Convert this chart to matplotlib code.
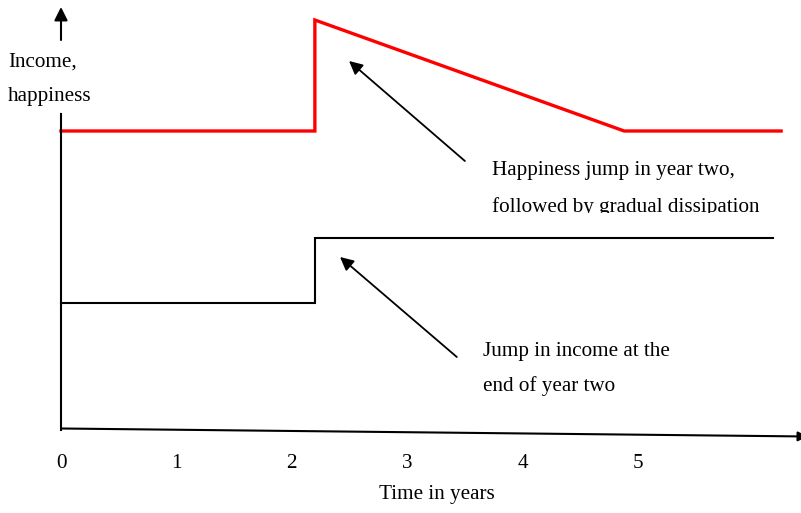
import numpy as np
from matplotlib import pyplot as plt
from matplotlib.transforms import Bbox, TransformedBbox

plt.rcParams['font.family'] = ['Liberation Serif', 'DejaVu Serif']

# time (years) and levels (arbitrary units)
happy_x = [0, 2.20, 2.20, 4.88, 6.24]
happy_y = [2.99, 2.99, 4.10, 2.99, 2.99]
income_x = [0, 2.20, 2.20, 6.17]
income_y = [1.27, 1.27, 1.92, 1.92]
year_ticks = [0, 1, 2, 3, 4, 5]

fs = 15.2

fig = plt.figure(figsize=(8.01, 5.13), dpi=100)
ax = fig.add_axes([0, 0, 1, 1])
ax.set_xlim(-0.5286, 6.4125)
ax.set_ylim(-0.83, 4.30)
ax.axis('off')

ax.plot(happy_x, happy_y, color='#ff0000', lw=2.4, solid_joinstyle='miter')
ax.plot(income_x, income_y, color='black', lw=1.5, solid_joinstyle='miter')

# axes drawn by hand, like the sketch
ax.plot([0, 0], [0, 3.16], color='black', lw=1.5)
ax.annotate('', xy=(0, 4.23), xytext=(0, 3.90),
            arrowprops=dict(arrowstyle='-|>', color='black', lw=1.5, mutation_scale=20,
                            shrinkA=0, shrinkB=0))
ax.annotate('', xy=(6.47, -0.065), xytext=(0, 0.015),
            arrowprops=dict(arrowstyle='-|>', color='black', lw=1.5, mutation_scale=14,
                            shrinkA=0, shrinkB=0), annotation_clip=False)

for t in year_ticks:
    ax.text(t, -0.34, str(t), ha='center', va='center', fontsize=fs)
ax.text(3.26, -0.64, 'Time in years', ha='center', va='center', fontsize=fs)

ax.text(-0.46, 3.63, 'Income,', ha='left', va='baseline', fontsize=fs)
ax.text(-0.46, 3.29, 'happiness', ha='left', va='baseline', fontsize=fs)

# annotations
ax.annotate('', xy=(2.496, 3.69), xytext=(3.50, 2.69),
            arrowprops=dict(arrowstyle='-|>', color='black', lw=1.3, mutation_scale=20,
                            shrinkA=0, shrinkB=0))
ax.annotate('', xy=(2.418, 1.73), xytext=(3.43, 0.73),
            arrowprops=dict(arrowstyle='-|>', color='black', lw=1.3, mutation_scale=20,
                            shrinkA=0, shrinkB=0))

ax.text(3.735, 2.55, 'Happiness jump in year two,', ha='left', va='baseline', fontsize=fs)
t2 = ax.text(3.735, 2.18, 'followed by gradual dissipation', ha='left', va='baseline',
             fontsize=fs)
t2.set_clip_on(True)
t2.set_clip_box(TransformedBbox(Bbox([[3.5, 2.17], [6.4, 2.5]]), ax.transData))

ax.text(3.657, 0.74, 'Jump in income at the', ha='left', va='baseline', fontsize=fs)
ax.text(3.657, 0.39, 'end of year two', ha='left', va='baseline', fontsize=fs)

fig.savefig('out.png', dpi=100)
